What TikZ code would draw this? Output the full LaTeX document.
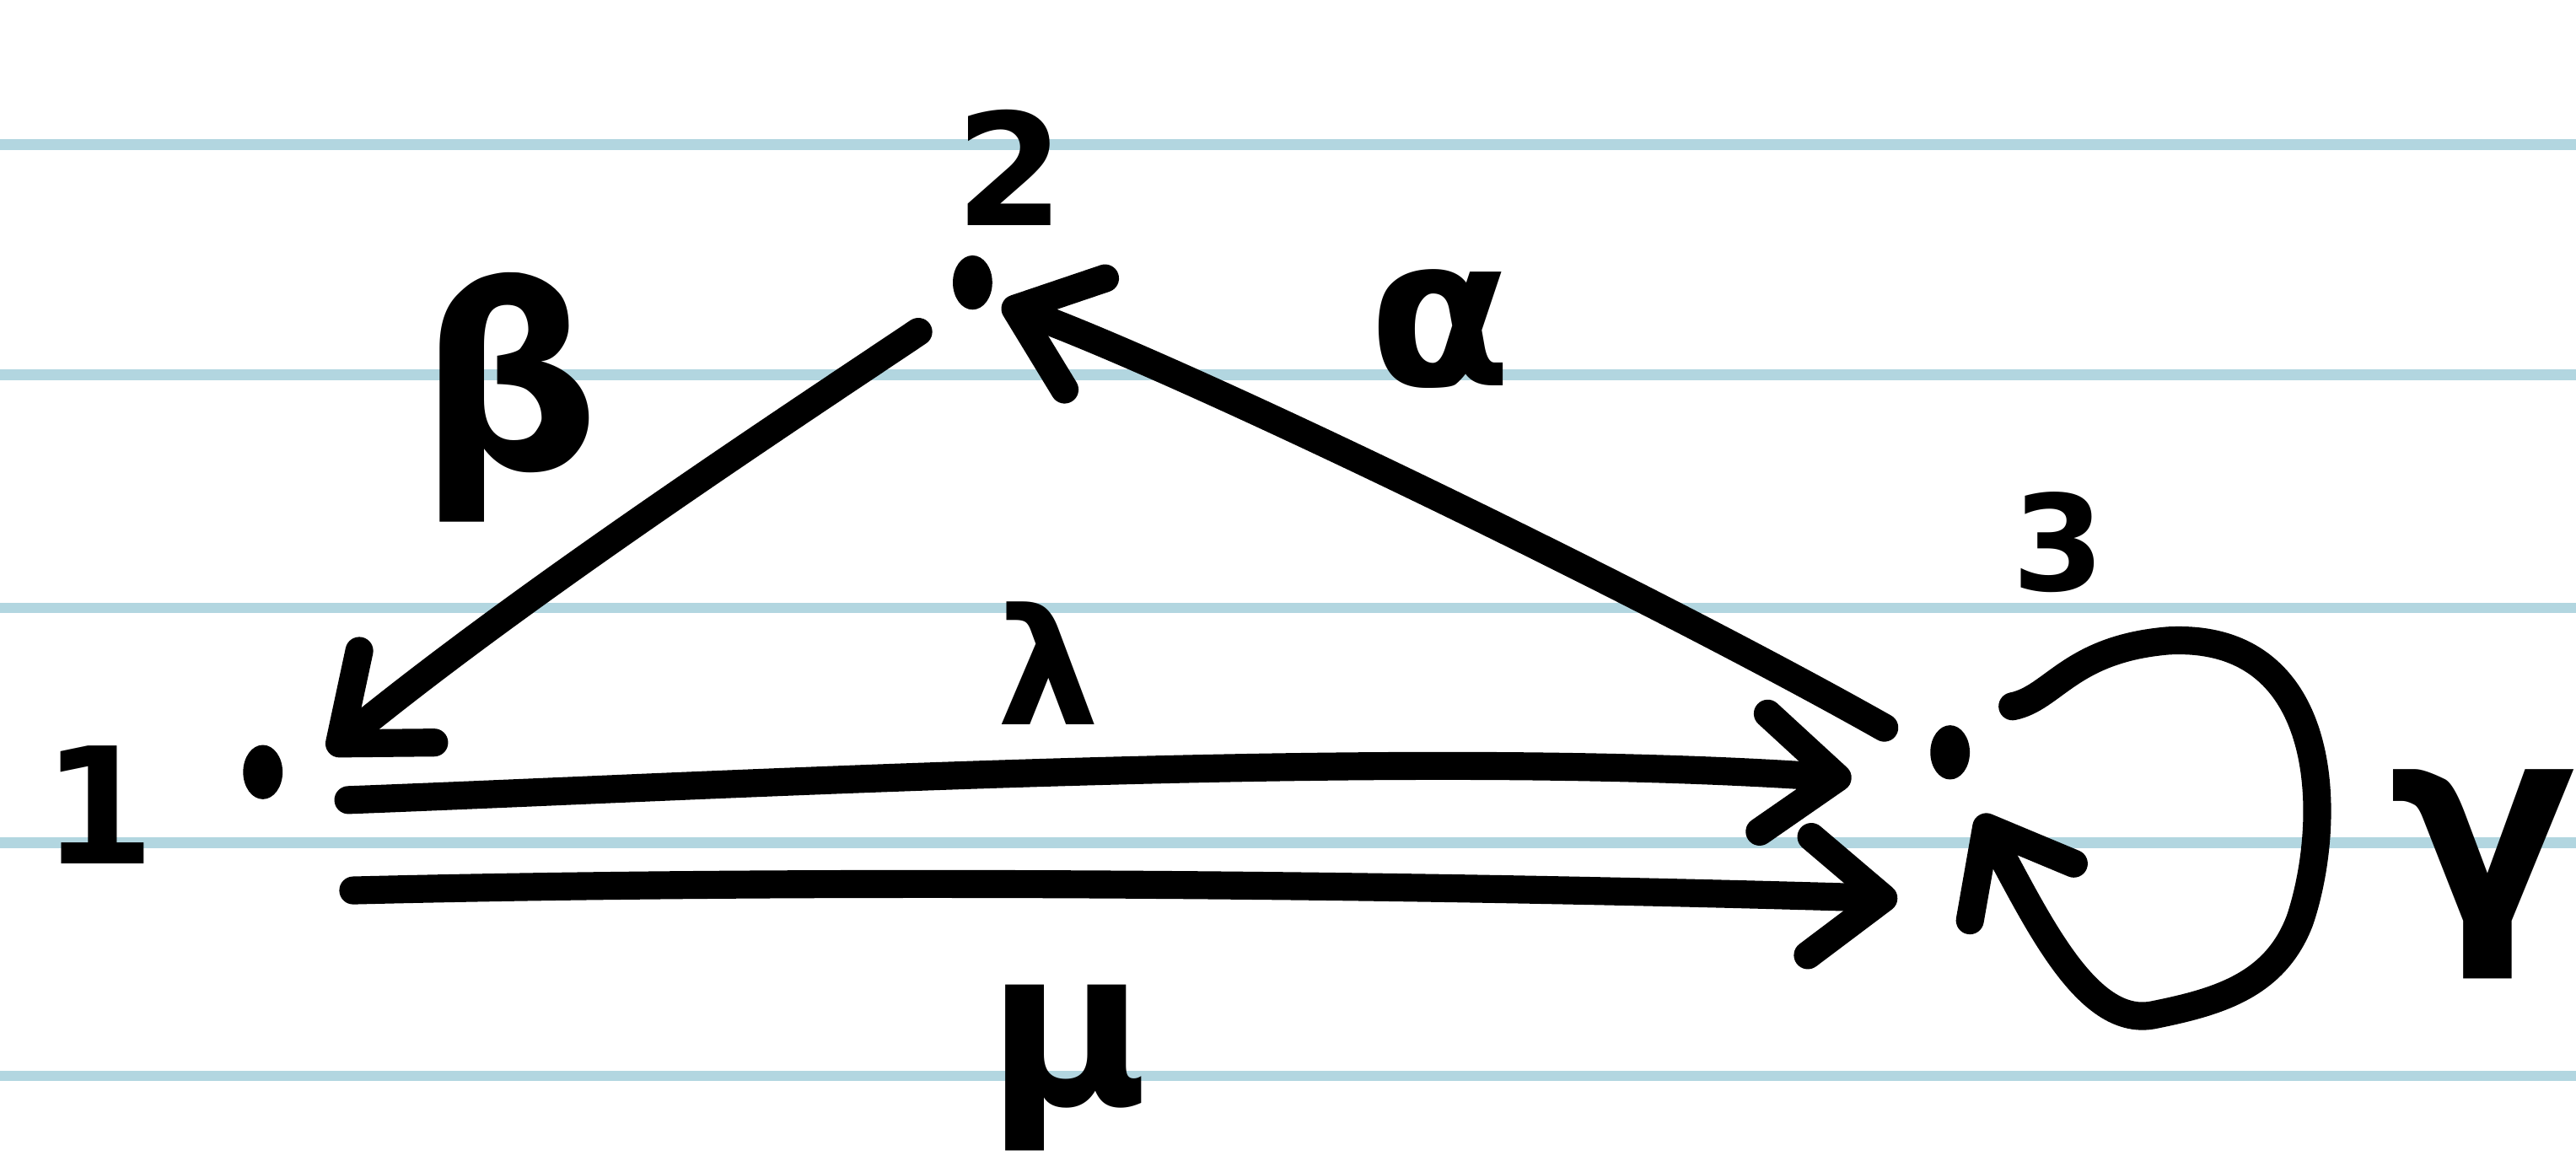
\documentclass[tikz,border=0pt]{standalone}
\usepackage{fontspec}
\setmainfont{DejaVu Sans}
\usetikzlibrary{arrows.meta,shapes.geometric}
\definecolor{rulecol}{RGB}{178,214,224}
\begin{document}
\begin{tikzpicture}[x=0.01cm,y=-0.01cm,
  ink/.style={line width=0.17cm, line cap=round, line join=round},
  edge/.style={ink, -{Straight Barb[length=0.45cm,width=0.72cm,line cap=round,line join=round]}},
  dotnode/.style={ellipse, fill=black, inner sep=0pt, minimum width=0.24cm, minimum height=0.33cm},
  lbl/.style={inner sep=0pt, text=black, font=\bfseries},
  ruleline/.style={rulecol, line width=0.065cm}]
\useasboundingbox (0,0) rectangle (1568,713);
\fill[white] (0,0) rectangle (1568,713);
% ruled paper
\foreach \yy in {88,228,370,513,655} \draw[ruleline] (0,\yy) -- (1568,\yy);
% vertices
\node[dotnode] (n1) at (160,470) {};
\node[dotnode] (n2) at (592,172) {};
\node[dotnode] (n3) at (1187,458) {};
% vertex labels
\node[lbl, font=\bfseries\fontsize{28}{32}\selectfont] (l1) at (60,490) {1};
\node[lbl, font=\bfseries\fontsize{27}{30}\selectfont] (l2) at (615,102) {2};
\node[lbl, font=\bfseries\fontsize{23}{26}\selectfont] (l3) at (1253,330) {3};
% edge labels
\node[lbl, font=\bfseries\fontsize{44}{50}\selectfont] (lb) at (310,242) {β};
\node[lbl, font=\bfseries\fontsize{36}{40}\selectfont] (la) at (877,200) {α};
\node[lbl, font=\bfseries\fontsize{28}{32}\selectfont] (ll) at (638,404) {λ};
\node[lbl, font=\bfseries\fontsize{38}{44}\selectfont] (lm) at (650,650) {μ};
\node[lbl, font=\bfseries\fontsize{48}{54}\selectfont] (lg) at (1512,532) {γ};
% beta: 2 -> 1
\draw[edge] ([xshift=-0.33cm,yshift=-0.30cm]n2.center) .. controls (480,255) and (320,360) .. ([xshift=0.40cm,yshift=0.12cm]n1.center);
% alpha: 3 -> 2
\draw[edge] ([xshift=-0.40cm,yshift=0.15cm]n3.center) .. controls (1000,360) and (720,225) .. ([xshift=0.18cm,yshift=-0.13cm]n2.center);
% lambda: 1 -> 3
\draw[edge] ([xshift=0.52cm,yshift=-0.17cm]n1.center) .. controls (450,478) and (850,455) .. ([xshift=-0.60cm,yshift=-0.16cm]n3.center);
% mu: 1 -> 3
\draw[edge] ([xshift=0.55cm,yshift=-0.72cm]n1.center) .. controls (500,535) and (850,538) .. ([xshift=-0.32cm,yshift=-0.89cm]n3.center);
% gamma: loop at 3
\draw[edge] ([xshift=0.38cm,yshift=0.28cm]n3.center) .. controls (1250,425) and (1260,395) .. (1320,390)
  .. controls (1420,385) and (1420,500) .. (1400,560)
  .. controls (1385,600) and (1350,610) .. (1310,618)
  .. controls (1270,625) and (1240,560) .. ([xshift=0.18cm,yshift=-0.38cm]n3.center);
\end{tikzpicture}
\end{document}
